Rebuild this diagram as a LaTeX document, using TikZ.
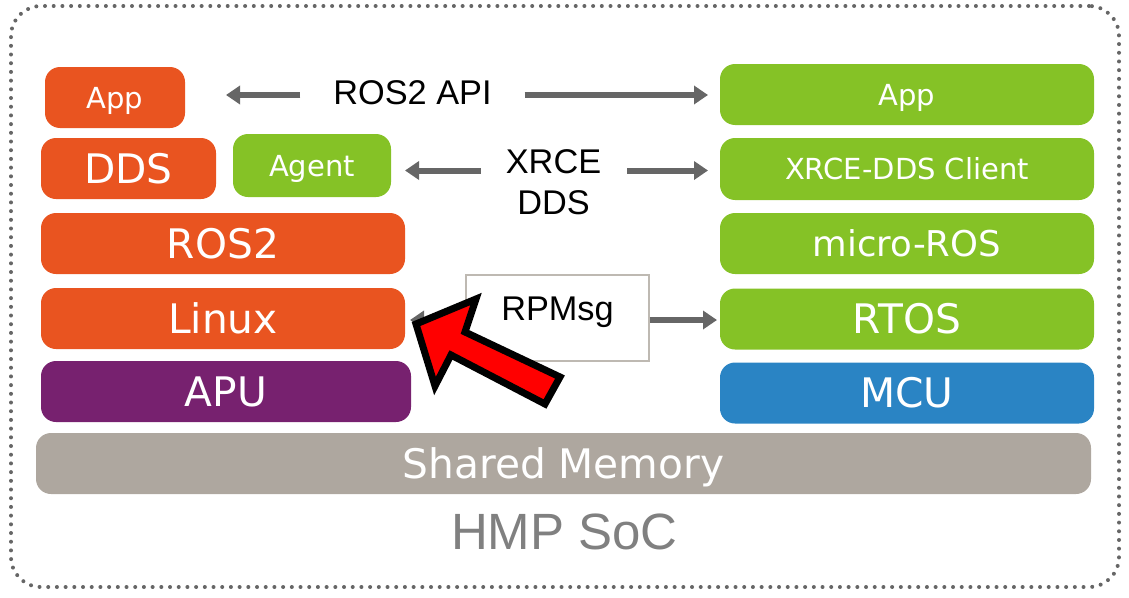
\documentclass[tikz,border=0pt]{standalone}
\usepackage{fontspec}
\setmainfont{DejaVu Sans}
\newfontfamily\arialf{Liberation Sans}
\usetikzlibrary{arrows.meta}
\definecolor{ubOrange}{HTML}{E95420}
\definecolor{ubGreen}{HTML}{85C226}
\definecolor{ubPurple}{HTML}{77216F}
\definecolor{ubBlue}{HTML}{2A84C4}
\definecolor{ubGrey}{HTML}{AEA79F}
\definecolor{arrgray}{HTML}{666666}
\definecolor{dotgray}{HTML}{666666}
\definecolor{socgray}{HTML}{808080}
\begin{document}
\begin{tikzpicture}[x=1pt,y=-1pt,
  blk/.style={rounded corners=15pt, inner sep=0pt, outer sep=0pt, text=white, minimum height=61pt},
  bigt/.style={font=\fontsize{40.7}{48}\selectfont, text height=29.5pt, text depth=0pt},
  midt/.style={font=\fontsize{35.5}{42}\selectfont, text height=25.8pt, text depth=0pt},
  smallt/.style={font=\fontsize{29}{34}\selectfont, text height=21.1pt, text depth=0pt},
  lbl/.style={font=\arialf\fontsize{34.3}{41}\selectfont, text height=24.5pt, text depth=0pt, inner sep=0pt, outer sep=0pt},
  arr/.style={draw=arrgray, line width=6pt, -{Triangle[length=14pt,width=18pt]}},
  socbox/.style={draw=dotgray, line width=4pt, dash pattern=on 0pt off 8.7pt, line cap=round, rounded corners=30pt, inner sep=0pt, minimum width=1108pt, minimum height=581pt},
]
\useasboundingbox (0,0) rectangle (1129,597);
% outer SoC frame
\node[socbox] (soc) at (565,296.5) {};
\node[font=\arialf\fontsize{51}{60}\selectfont, text=socgray, text height=36.5pt, text depth=0pt, inner sep=0pt] (soctxt) at (564.5,531.5) {HMP SoC};

% left column
\node[blk, fill=ubOrange, smallt, minimum width=140pt] (appL) at (115,97.5) {App};
\node[blk, fill=ubOrange, bigt, minimum width=175pt] (ddsL) at (128.5,168.5) {DDS};
\node[blk, fill=ubGreen, smallt, minimum width=158pt, minimum height=63pt] (agent) at (312,165.5) {Agent};
\node[blk, fill=ubOrange, bigt, minimum width=364pt] (ros2) at (223,243.5) {ROS2};
\node[blk, fill=ubOrange, bigt, minimum width=364pt] (linux) at (223,318.5) {Linux};
\node[blk, fill=ubPurple, bigt, minimum width=370pt] (apu) at (226,391.5) {APU};

% right column
\node[blk, fill=ubGreen, smallt, minimum width=374pt] (appR) at (907,94.5) {App};
\node[blk, fill=ubGreen, smallt, minimum width=374pt, minimum height=62pt] (client) at (907,169) {XRCE-DDS Client};
\node[blk, fill=ubGreen, midt, minimum width=374pt] (micro) at (907,243.5) {micro-ROS};
\node[blk, fill=ubGreen, bigt, minimum width=374pt] (rtos) at (907,319) {RTOS};
\node[blk, fill=ubBlue, bigt, minimum width=374pt] (mcu) at (907,393) {MCU};

% shared memory
\node[blk, fill=ubGrey, bigt, minimum width=1055pt] (shm) at (563.5,463.5) {Shared Memory};

% labels
\node[lbl] (rosapi) at (412.5,92) {ROS2 API};
\node[lbl] (xrceA) at (553.5,161.5) {XRCE};
\node[lbl] (xrceB) at (553.5,202.5) {DDS};
\node[draw=ubGrey!80, line width=1.2pt, fill=white, inner sep=0pt, minimum width=183pt, minimum height=86pt,
      font=\arialf\fontsize{34.3}{41}\selectfont, text height=25pt, text depth=21pt] (rpm) at (557.5,318) {RPMsg};

% connectors
\draw[arr, shorten <=33pt, shorten >=41pt] ([yshift=-3pt]rosapi.west) -- ([yshift=-3pt]rosapi.west -| appL.east);
\draw[arr, shorten <=33pt, shorten >=12pt] ([yshift=-3pt]rosapi.east) -- ([yshift=-3pt]rosapi.east -| appR.west);
\draw[arr, shorten <=25pt, shorten >=14pt] ([yshift=-9pt]xrceA.west) -- ([yshift=-9pt]xrceA.west -| agent.east);
\draw[arr, shorten <=26pt, shorten >=12pt] ([yshift=-9pt]xrceA.east) -- ([yshift=-9pt]xrceA.east -| client.west);
\draw[arr, shorten >=3pt] ([yshift=-2pt]rpm.east) -- ([yshift=-2pt]rpm.east -| rtos.west);
\draw[arr, shorten >=5pt] ([yshift=-2pt]rpm.west) -- ([yshift=-2pt]rpm.west -| linux.east);

% red highlight arrow
\draw[line width=7pt, fill=red, draw=black, line join=miter]
  (416,324) -- (476,299) -- (465,332) -- (560,377) -- (545,404) -- (451,355) -- (435,386) -- cycle;
\end{tikzpicture}
\end{document}
